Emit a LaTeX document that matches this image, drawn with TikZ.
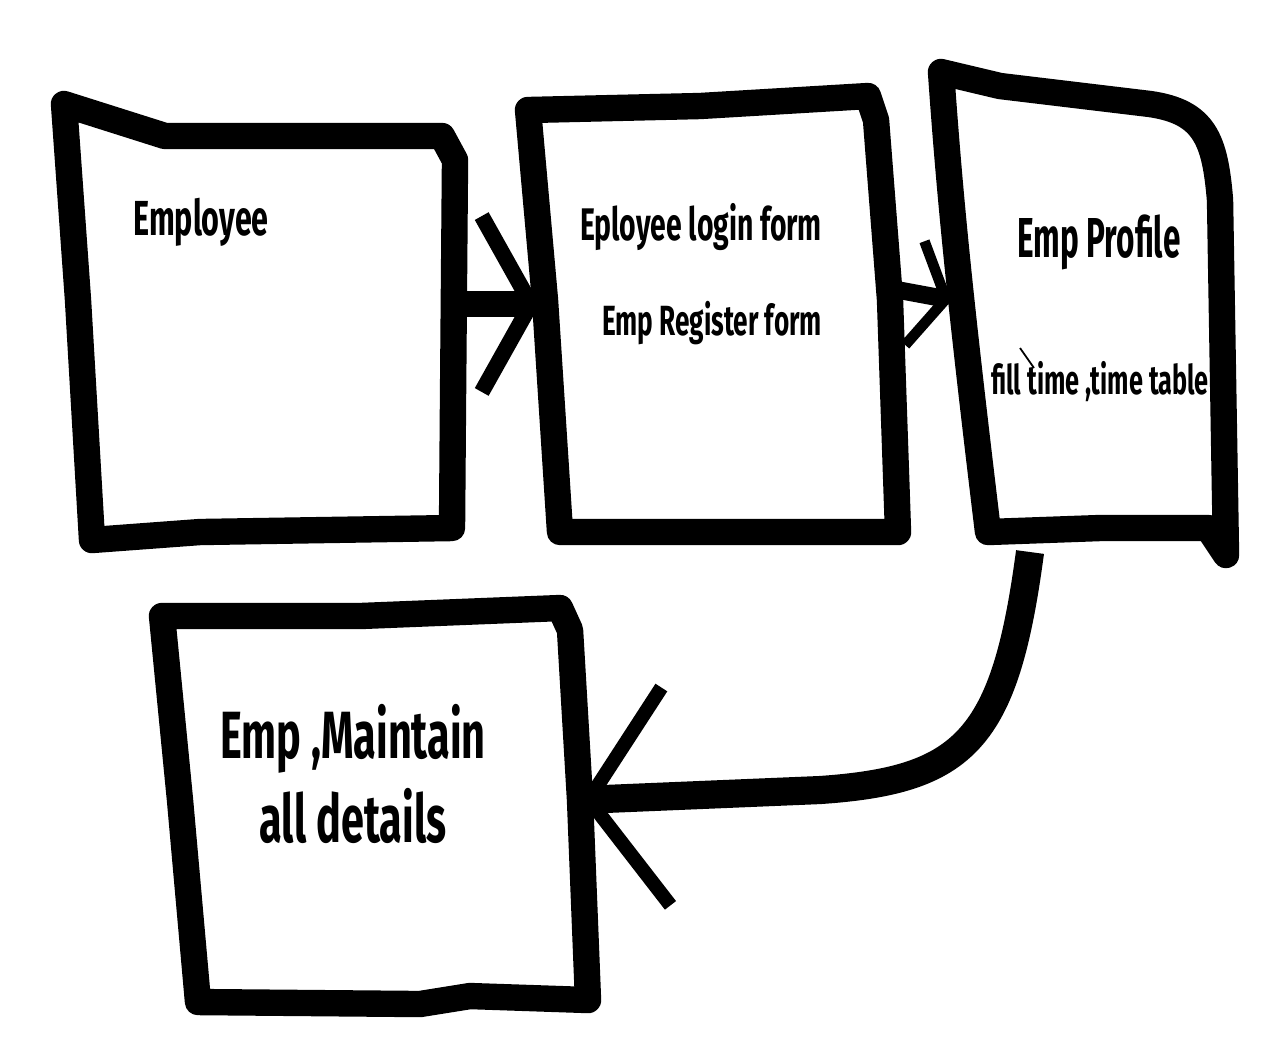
\documentclass[tikz,border=0pt]{standalone}
\usepackage{fontspec}
\newfontfamily\handfont[FakeStretch=0.62]{Fira Sans}
\newfontfamily\narrowfont[FakeStretch=0.56]{Fira Sans}
\usepackage{tikz}
\usetikzlibrary{arrows.meta}

\begin{document}
\begin{tikzpicture}
[x=0.01cm, y=-0.01cm,
sketch/.style={line width=7.5pt, line join=round, line cap=round, fill=white},
flow/.style={line width=7.5pt},
label/.style={font=\handfont\bfseries\fontsize{14}{16}\selectfont, inner sep=0pt},
biglabel/.style={font=\handfont\bfseries\fontsize{19}{22}\selectfont, inner sep=0pt, align=center},
smalllabel/.style={font=\handfont\bfseries\fontsize{11.6}{14}\selectfont, inner sep=0pt},]
    \useasboundingbox (0,0) rectangle (1280,1050);
    % boxes, drawn by hand
    \draw[sketch] (64,104) -- (165,136) -- (442,136) -- (455,160) -- (453,400) -- (452,528) -- (200,532) -- (92,540) -- (78,300) -- cycle;
    \draw[sketch] (528,110) -- (700,106) -- (868,96) -- (876,120) -- (890,300) -- (898,532) -- (700,532) -- (560,532) -- (545,300) -- cycle;
    \draw[sketch] (941,72) -- (1000,86) -- (1150,104) .. controls (1205,112) and (1215,140) .. (1220,200) -- (1226,555) -- (1208,528) -- (1100,528) -- (988,532) .. controls (960,300) and (950,200) .. cycle;
    \draw[sketch] (162,616) -- (360,616) -- (560,608) -- (570,630) -- (580,800) -- (588,1000) -- (470,996) -- (420,1004) -- (198,1002) -- (180,800) -- cycle;
    % texts
    \node[label] (employee) at (201,222) {Employee};
    \node[label, font=\handfont\bfseries\fontsize{13}{15}\selectfont] (login) at (701,227) {Eployee login form};
    \node[label, font=\handfont\bfseries\fontsize{12}{14}\selectfont] (register) at (712,323) {Emp Register form};
    \node[label, font=\narrowfont\bfseries\fontsize{16}{18}\selectfont] (profile) at (1099,242) {Emp Profile};
    \node[smalllabel] (filltime) at (1100,382) {fill time ,time table};
    \node[biglabel] (maintain) at (353,774) {Emp ,Maintain\\[2pt]all details};
    \draw[line width=0.5pt] (1020,348) -- (1034,368);
    % connectors
    \coordinate (a1) at (458,304);
    \coordinate (b1) at (540,304);
    \coordinate (a2) at (898,290);
    \coordinate (b2) at (952,300);
    \coordinate (a3) at (1030,552);
    \coordinate (b3) at (580,800);
    \draw[flow, -{Straight Barb[length=14pt, width=50pt, line width=4.5pt]}] (a1) -- (b1);
    \draw[flow, line width=5pt, -{Straight Barb[length=9pt, width=30pt, line width=3pt]}] (a2) -- (b2);
    \draw[flow, line width=8pt, -{Straight Barb[length=22pt, width=62pt, line width=4pt]}] (a3) .. controls (1005,740) and (965,780) .. (820,790) -- (b3);
\end{tikzpicture}
\end{document}
